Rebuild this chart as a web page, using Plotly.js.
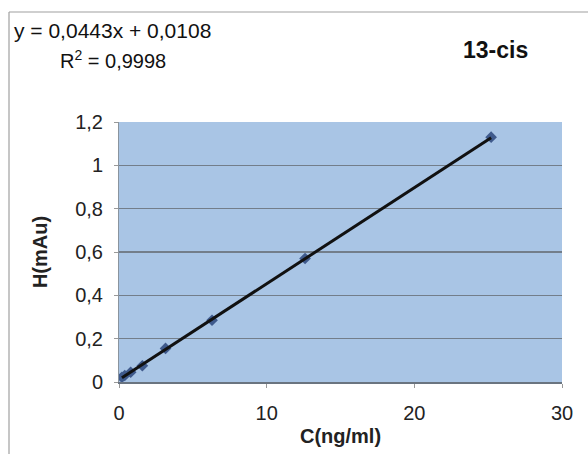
<!DOCTYPE html>
<html>
<head>
<meta charset="utf-8">
<script src="https://cdn.plot.ly/plotly-3.0.1.min.js"></script>
<style>html,body{margin:0;padding:0;background:#fff;}#chart{width:588px;height:454px;}</style>
</head>
<body>
<div id="chart"></div>
<script>
// Data
const concentration = [0.2, 0.39, 0.79, 1.58, 3.15, 6.3, 12.6, 25.2];
const height = [0.022, 0.03, 0.045, 0.075, 0.155, 0.285, 0.57, 1.13];
const trendX = [0.2, 25.2];
const trendY = [0.0197, 1.127];
const xTicks = [0, 10, 20, 30];
const yTicks = [0, 0.2, 0.4, 0.6, 0.8, 1, 1.2];

const traces = [
  {x: concentration, y: height, type: 'scatter', mode: 'markers',
   marker: {symbol: 'diamond', size: 9, color: '#3f5a8c'}, hoverinfo: 'skip'},
  {x: trendX, y: trendY, type: 'scatter', mode: 'lines',
   line: {color: '#111111', width: 3}, hoverinfo: 'skip'}
];

const layout = {
  width: 588, height: 454,
  margin: {l: 119, r: 26, t: 122, b: 72},
  paper_bgcolor: '#ffffff',
  plot_bgcolor: '#a9c5e5',
  separators: ', ',
  showlegend: false,
  font: {family: 'Liberation Sans, Arial, sans-serif', size: 19, color: '#222'},
  xaxis: {
    range: [0, 30], tickvals: xTicks, showgrid: false, zeroline: false,
    showline: true, linecolor: '#6a7480', linewidth: 2,
    ticks: 'outside', ticklen: 4, tickcolor: '#999', ticklabelstandoff: 8,
    tickfont: {size: 20, color: '#222'},
    title: {text: '<b>C(ng/ml)</b>', font: {size: 20, color: '#222'}, standoff: 6}
  },
  yaxis: {
    range: [0, 1.2], tickvals: yTicks, showgrid: true, gridcolor: '#737e8a', gridwidth: 1.3,
    zeroline: false, showline: true, linecolor: '#8a949e', linewidth: 1,
    ticks: 'outside', ticklen: 4, tickcolor: '#999', ticklabelstandoff: 7,
    tickfont: {size: 20, color: '#222'},
    title: {text: '<b>H(mAu)</b>', font: {size: 20, color: '#222'}, standoff: 22}
  },
  shapes: [
    {type: 'line', xref: 'paper', yref: 'paper', x0: -0.2483, x1: 1.06, y0: 1.423, y1: 1.423,
     line: {color: '#a0a0a0', width: 1.2}},
    {type: 'line', xref: 'paper', yref: 'paper', x0: -0.2483, x1: -0.2483, y0: -0.28, y1: 1.423,
     line: {color: '#a0a0a0', width: 1.2}}
  ],
  annotations: [
    {xref: 'paper', yref: 'paper', x: -0.241, y: 1.35, xanchor: 'left', yanchor: 'middle',
     text: 'y = 0,0443x + 0,0108', showarrow: false, font: {size: 21, color: '#111'}},
    {xref: 'paper', yref: 'paper', x: -0.138, y: 1.242, xanchor: 'left', yanchor: 'middle',
     text: 'R<sup>2</sup> = 0,9998', showarrow: false, font: {size: 20, color: '#111'}},
    {xref: 'paper', yref: 'paper', x: 0.849, y: 1.277, xanchor: 'center', yanchor: 'middle',
     text: '<b>13-cis</b>', showarrow: false, font: {size: 23, color: '#111'}}
  ]
};

Plotly.newPlot('chart', traces, layout, {staticPlot: true, displayModeBar: false});
</script>
</body>
</html>
